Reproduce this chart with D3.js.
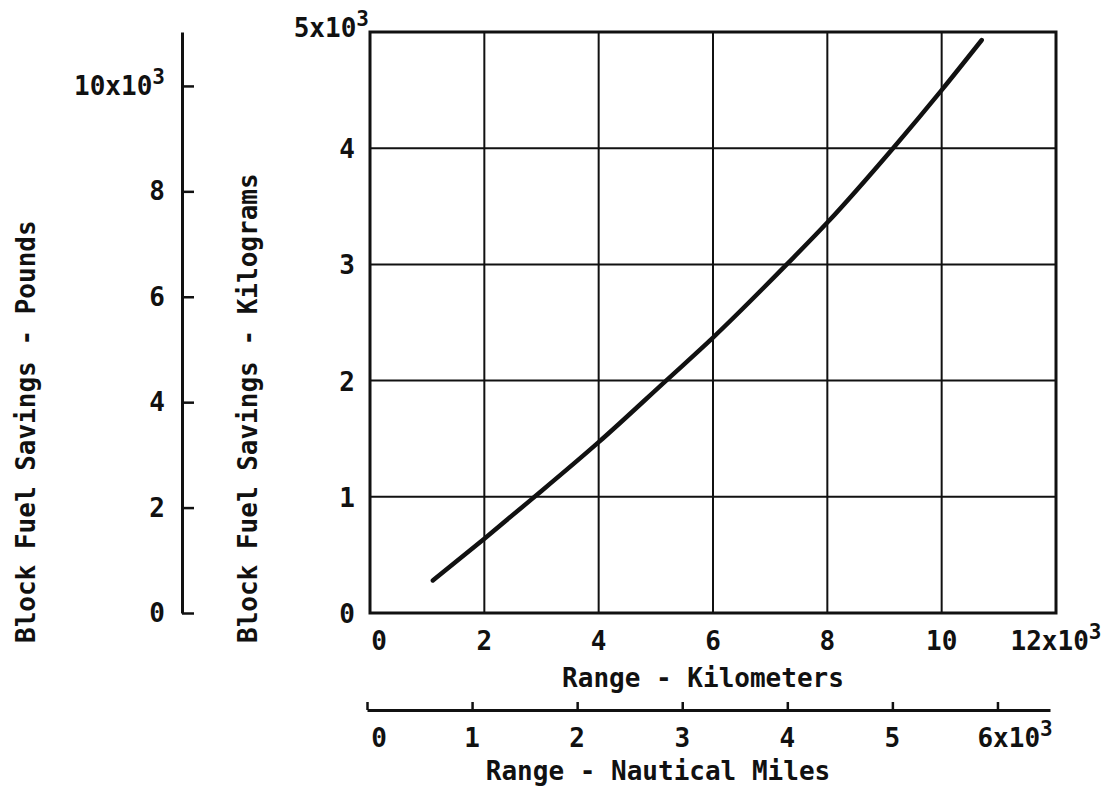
<!DOCTYPE html>
<html><head><meta charset="utf-8">
<script src="https://cdn.jsdelivr.net/npm/d3@7"></script>
<style>
html,body{margin:0;padding:0;background:#fff;}
svg text{font-family:"DejaVu Sans Mono",monospace;font-size:26px;font-weight:bold;fill:#111;}
</style></head><body>
<svg id="chart" width="1110" height="795"></svg>
<script>
// Block fuel savings versus range (thousands of km / thousands of kg)
const rangeKm  = [1.10, 2.0, 2.83, 4.0, 5.18, 6.0, 7.29, 8.0, 9.15, 10.0, 10.70];
const savingKg = [0.28, 0.64, 0.98, 1.47, 2.0, 2.37, 3.0, 3.36, 4.0, 4.50, 4.93];

const kmTicks  = [0, 2, 4, 6, 8, 10, 12];
const kmLabels = ["0", "2", "4", "6", "8", "10", "12x10^3"];
const kgTicks  = [0, 1, 2, 3, 4, 5];
const kgLabels = ["0", "1", "2", "3", "4", "5x10^3"];
const lbTicks  = [0, 2, 4, 6, 8, 10];
const lbLabels = ["0", "2", "4", "6", "8", "10x10^3"];
const nmTicks  = [0, 1, 2, 3, 4, 5, 6];
const nmLabels = ["0", "1", "2", "3", "4", "5", "6x10^3"];

const LB_PER_KG = 2.20462;
const INK = "#111";

const svg = d3.select("#chart");
svg.append("rect").attr("width", 1110).attr("height", 795).attr("fill", "#fff");

const x = d3.scaleLinear().domain([0, 12]).range([370, 1056]);
const y = d3.scaleLinear().domain([0, 5]).range([613, 32]);
const yLb = d3.scaleLinear().domain([0, 5 * LB_PER_KG]).range([613, 32]);
const xNm = d3.scaleLinear().domain([0, 6.5]).range([367, 1050]);

// text with an optional superscript exponent written as "base^exp"
function label(g, str, px, py, anchor) {
  const [base, sup] = str.split("^");
  const t = g.append("text").attr("x", px).attr("y", py).attr("text-anchor", anchor);
  t.append("tspan").text(base);
  if (sup) t.append("tspan").attr("dy", -11).style("font-size", "21px").text(sup);
  return t;
}

// grid
const grid = svg.append("g").attr("stroke", INK).attr("stroke-width", 2);
grid.selectAll("line.v").data(kmTicks.slice(1, -1)).join("line")
  .attr("x1", d => x(d)).attr("x2", d => x(d))
  .attr("y1", y(0)).attr("y2", y(5));
grid.selectAll("line.h").data(kgTicks.slice(1, -1)).join("line")
  .attr("x1", x(0)).attr("x2", x(12))
  .attr("y1", d => y(d)).attr("y2", d => y(d));

// plot frame
svg.append("rect")
  .attr("x", x(0)).attr("y", y(5))
  .attr("width", x(12) - x(0)).attr("height", y(0) - y(5))
  .attr("fill", "none").attr("stroke", INK).attr("stroke-width", 3);

// savings curve
const pts = rangeKm.map((r, i) => [r, savingKg[i]]);
svg.append("path").datum(pts)
  .attr("d", d3.line().x(d => x(d[0])).y(d => y(d[1])).curve(d3.curveMonotoneX))
  .attr("fill", "none").attr("stroke", INK).attr("stroke-width", 4.5)
  .attr("stroke-linecap", "round");

// kilogram labels
const kgG = svg.append("g");
kgTicks.forEach((v, i) => {
  if (i === kgTicks.length - 1) label(kgG, kgLabels[i], 369, y(v) + 5, "end");
  else label(kgG, kgLabels[i], 355, y(v) + 10, "end");
});

// kilometre labels
const kmG = svg.append("g");
kmTicks.forEach((v, i) => label(kmG, kmLabels[i], i === 0 ? x(v) + 9 : x(v), 650, "middle"));
kmG.append("text").attr("x", 703).attr("y", 687).attr("text-anchor", "middle")
  .text("Range - Kilometers");

// pounds axis
const lbAxis = svg.append("g").attr("transform", "translate(182,0)")
  .call(d3.axisRight(yLb).tickValues(lbTicks).tickSize(12).tickSizeOuter(0).tickFormat(""));
lbAxis.select(".domain").attr("stroke", INK).attr("stroke-width", 3);
lbAxis.selectAll(".tick line").attr("stroke", INK).attr("stroke-width", 2.5);
const lbG = svg.append("g");
lbTicks.forEach((v, i) => label(lbG, lbLabels[i], 165, yLb(v) + 9, "end"));

// nautical miles axis
const nmAxis = svg.append("g").attr("transform", "translate(0,710)")
  .call(d3.axisTop(xNm).tickValues(nmTicks).tickSize(8).tickSizeOuter(0).tickFormat(""));
nmAxis.select(".domain").attr("stroke", INK).attr("stroke-width", 3);
nmAxis.selectAll(".tick line").attr("stroke", INK).attr("stroke-width", 2.5);
const nmG = svg.append("g");
nmTicks.forEach((v, i) => {
  if (i === nmTicks.length - 1) label(nmG, nmLabels[i], xNm(v) - 20, 747, "start");
  else label(nmG, nmLabels[i], i === 0 ? xNm(v) + 12 : xNm(v), 747, "middle");
});
nmG.append("text").attr("x", 658).attr("y", 780).attr("text-anchor", "middle")
  .text("Range - Nautical Miles");

// vertical titles
svg.append("text").attr("transform", "translate(35,643) rotate(-90)")
  .attr("text-anchor", "start").text("Block Fuel Savings - Pounds");
svg.append("text").attr("transform", "translate(257,643) rotate(-90)")
  .attr("text-anchor", "start").text("Block Fuel Savings - Kilograms");
</script>
</body></html>
